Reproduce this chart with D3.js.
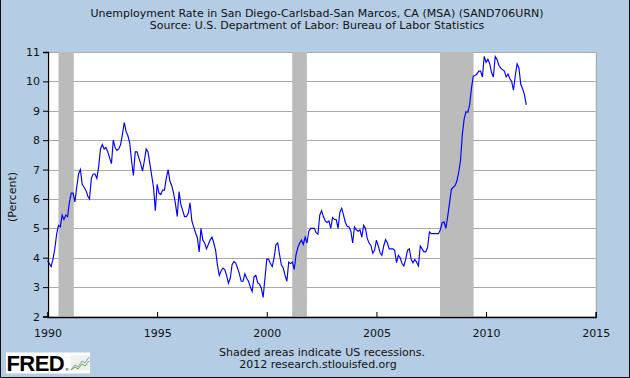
<!DOCTYPE html>
<html><head><meta charset="utf-8">
<script src="https://cdn.jsdelivr.net/npm/d3@7"></script>
<style>
html,body{margin:0;padding:0;background:#fff;}
svg{display:block;font-family:"DejaVu Sans",Verdana,sans-serif;}
</style></head>
<body>
<svg id="chart" width="630" height="378"></svg>
<script>
// ---- data (monthly, starting Jan 1990) ----
const startYear = 1990;
const rates1990_1994 = [
  3.9, 3.8, 3.7, 3.95, 4.3, 4.8, 5.1, 5.05, 5.45, 5.3, 5.45, 5.4,
  5.9, 6.2, 6.2, 5.9, 6.4, 6.85, 7.0, 6.5, 6.4, 6.3, 6.1, 6.0,
  6.7, 6.85, 6.85, 6.7, 7.1, 7.7, 7.85, 7.7, 7.75, 7.6, 7.4, 7.2,
  8.0, 7.75, 7.65, 7.7, 7.85, 8.2, 8.6, 8.3, 8.15, 7.9, 7.3, 6.8,
  7.6, 7.6, 7.4, 7.2, 6.95, 7.3, 7.7, 7.6, 7.2, 6.8, 6.4, 5.6
];
const rates1995_1999 = [
  6.5, 6.2, 6.15, 6.3, 6.3, 6.7, 7.0, 6.6, 6.45, 6.2, 5.85, 5.4,
  6.25, 5.8, 5.6, 5.4, 5.4, 5.5, 5.87, 5.25, 5.05, 4.85, 4.68, 4.2,
  5.0, 4.6, 4.5, 4.3, 4.45, 4.6, 4.7, 4.5, 4.25, 3.75, 3.4, 3.55,
  3.65, 3.6, 3.4, 3.13, 3.3, 3.76, 3.87, 3.82, 3.65, 3.45, 3.2, 3.2,
  3.45, 3.3, 3.2, 3.0, 2.85, 3.35, 3.4, 3.15, 3.1, 2.97, 2.65, 3.3
];
const rates2000_2004 = [
  3.95, 3.95, 3.8, 3.7, 4.0, 4.44, 4.5, 4.1, 3.75, 3.65, 3.4, 3.2,
  3.85, 3.8, 3.85, 3.6, 4.1, 4.35, 4.5, 4.6, 4.45, 4.7, 4.5, 4.9,
  5.0, 5.0, 5.0, 4.85, 4.8, 5.45, 5.6, 5.4, 5.25, 5.2, 5.25, 5.0,
  5.37, 5.3, 5.3, 5.0, 5.55, 5.68, 5.45, 5.2, 5.07, 5.05, 4.9, 4.5,
  5.05, 4.95, 4.9, 4.95, 4.7, 5.1, 5.0, 4.65, 4.5, 4.42, 4.15, 4.25
];
const rates2005_2009 = [
  4.6, 4.4, 4.17, 4.08, 4.4, 4.62, 4.5, 4.3, 4.3, 4.3, 4.25, 3.83,
  4.08, 4.0, 3.8, 3.72, 3.94, 4.25, 4.3, 3.95, 3.83, 3.94, 3.85, 3.72,
  4.4, 4.3, 4.2, 4.2, 4.35, 4.88, 4.82, 4.82, 4.82, 4.82, 4.82, 4.96,
  5.19, 5.22, 5.0, 5.4, 5.86, 6.32, 6.4, 6.45, 6.6, 6.9, 7.3, 8.18,
  8.72, 8.97, 8.95, 9.2, 9.76, 10.18, 10.2, 10.25, 10.35, 10.35, 10.15, 10.85
];
const rates2010_2011 = [
  10.65, 10.75, 10.6, 10.3, 10.15, 10.85, 10.75, 10.55, 10.45, 10.4, 10.35, 10.15,
  10.25, 10.1, 10.0, 9.7, 10.2, 10.6, 10.45, 9.9, 9.75, 9.55, 9.2
];
const recessions = [[1990.5, 1991.2], [2001.16, 2001.83], [2007.9, 2009.43]];
const xTicks = [1990, 1995, 2000, 2005, 2010, 2015];
const yTicks = [2, 3, 4, 5, 6, 7, 8, 9, 10, 11];
const titleLines = [
  "Unemployment Rate in San Diego-Carlsbad-San Marcos, CA (MSA) (SAND706URN)",
  "Source: U.S. Department of Labor: Bureau of Labor Statistics"
];
const footerLines = ["Shaded areas indicate US recessions.", "2012 research.stlouisfed.org"];
const yLabel = "(Percent)";

// ---- build ----
const allRates = [].concat(rates1990_1994, rates1995_1999, rates2000_2004, rates2005_2009, rates2010_2011);
const series = allRates.map((v, i) => ({t: startYear + i / 12, v}));

const W = 630, H = 378;
const L = 47.5, R = 595.7, T = 52, B = 316.5;
const svg = d3.select("#chart");
const bg = "#b4cde4";

svg.append("rect").attr("x", 0).attr("y", 0).attr("width", W).attr("height", H).attr("fill", bg);
// frame (left, right, bottom)
svg.append("path").attr("d", `M0.5,0 V${H-0.5} H${W-0.5} V0`).attr("fill", "none").attr("stroke", "#111").attr("stroke-width", 1);

const x = d3.scaleLinear().domain([1990, 2015]).range([L, R]);
const y = d3.scaleLinear().domain([2, 11]).range([B, T]);

// plot area
svg.append("rect").attr("x", L).attr("y", T).attr("width", R - L).attr("height", B - T).attr("fill", "#fff");

// gridlines
svg.append("g").selectAll("line").data(yTicks.filter(d => d > 2)).join("line")
  .attr("x1", L).attr("x2", R)
  .attr("y1", d => Math.round(y(d)) + 0.5).attr("y2", d => Math.round(y(d)) + 0.5)
  .attr("stroke", "#aaaaaa").attr("stroke-width", 1);
// right border
svg.append("line").attr("x1", Math.round(R) + 0.5).attr("x2", Math.round(R) + 0.5)
  .attr("y1", T).attr("y2", B).attr("stroke", "#aaaaaa");

// recessions
svg.append("g").selectAll("rect").data(recessions).join("rect")
  .attr("x", d => x(d[0])).attr("width", d => x(d[1]) - x(d[0]))
  .attr("y", T).attr("height", B - T).attr("fill", "#bbbbbb");

// line
const line = d3.line().x(d => x(d.t)).y(d => y(d.v));
svg.append("path").datum(series).attr("d", line)
  .attr("fill", "none").attr("stroke", "#0000ff").attr("stroke-width", 1.15).attr("stroke-linejoin", "miter");

// axes
const yAxis = svg.append("g").attr("transform", `translate(${Math.round(L)},0)`)
  .call(d3.axisLeft(y).tickValues(yTicks).tickFormat(d3.format("d")).tickSize(5).tickPadding(3));
const xAxis = svg.append("g").attr("transform", `translate(0,${Math.round(B)})`)
  .call(d3.axisBottom(x).tickValues(xTicks).tickFormat(d3.format("d")).tickSize(-5).tickPadding(9));
[yAxis, xAxis].forEach(g => {
  g.select(".domain").attr("stroke", "#000").attr("stroke-width", 1.3);
  g.selectAll(".tick line").attr("stroke", "#000");
  g.selectAll("text").attr("font-family", "DejaVu Sans, Verdana, sans-serif").attr("font-size", 11).attr("fill", "#111");
});
xAxis.selectAll(".tick text").attr("y", 12);

// y label
svg.append("text").attr("transform", "translate(16,197) rotate(-90)")
  .attr("text-anchor", "middle").attr("font-size", 11).attr("fill", "#111").text(yLabel);

// titles
svg.append("g").selectAll("text").data(titleLines).join("text")
  .attr("x", 317).attr("y", (d, i) => 16.5 + i * 12)
  .attr("text-anchor", "middle").attr("font-size", 11).attr("fill", "#111").text(d => d);

// footer
svg.append("g").selectAll("text").data(footerLines).join("text")
  .attr("x", (d, i) => i === 0 ? 322 : 318).attr("y", (d, i) => 355.5 + i * 12.5)
  .attr("text-anchor", "middle").attr("font-size", 11).attr("fill", "#111").text(d => d);

// FRED logo
const logo = svg.append("g");
logo.append("rect").attr("x", 6).attr("y", 352.5).attr("width", 84).attr("height", 21).attr("fill", "#fff");
logo.append("text").attr("x", 6.5).attr("y", 371)
  .attr("font-family", "Liberation Sans, Arial, sans-serif").attr("font-weight", "bold")
  .attr("font-size", 22).attr("letter-spacing", -0.6).attr("fill", "#000").text("FRED");
logo.append("text").attr("x", 65).attr("y", 370.5).attr("font-size", 4).attr("fill", "#000").text("®");
logo.append("rect").attr("x", 70.5).attr("y", 355.5).attr("width", 19).attr("height", 15).attr("fill", "#eef2ea");
logo.append("path").attr("d", "M71,370 L75,365 L78,367 L82,361 L85,363 L89,357")
  .attr("fill", "none").attr("stroke", "#7aa2d0").attr("stroke-width", 1);
logo.append("path").attr("d", "M71,370 L75,367 L78,369 L82,364 L85,366 L89,361")
  .attr("fill", "none").attr("stroke", "#5cab3c").attr("stroke-width", 1);
</script>
</body></html>
